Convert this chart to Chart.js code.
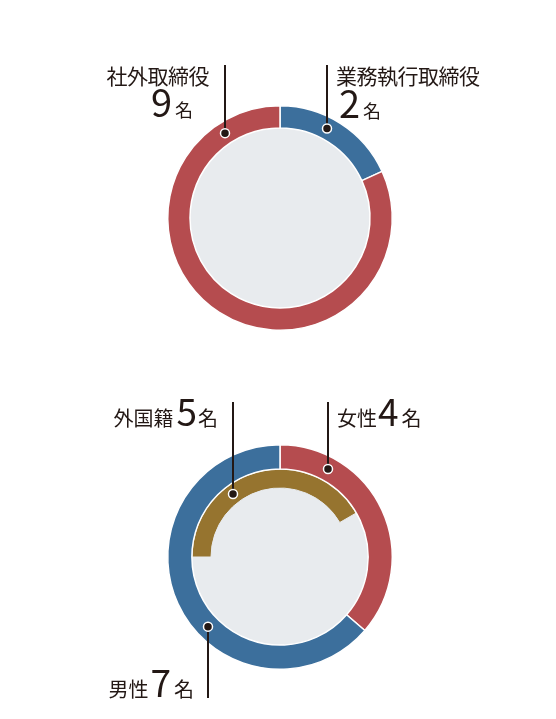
<!DOCTYPE html>
<html lang="ja">
<head>
<meta charset="utf-8">
<title>取締役会の構成</title>
<script src="https://cdn.jsdelivr.net/npm/chart.js@4.4.1/dist/chart.umd.min.js"></script>
<style>
    body { margin: 0; background: #fff; }
    #wrap {
        position: relative;
        width: 556px;
        height: 719px;
        overflow: hidden;
        font-family: "Noto Sans CJK JP", sans-serif;
        font-weight: 400;
        color: #231815;
    }
    #wrap canvas { position: absolute; left: 0; }
    .lbl { position: absolute; white-space: nowrap; line-height: 1; }
    .probe { display: inline-block; width: 0; height: 0; vertical-align: baseline; }
</style>
</head>
<body>
<div id="wrap">
    <canvas id="board" width="556" height="380" style="top:0"></canvas>
    <canvas id="diversity" width="556" height="339" style="top:380px"></canvas>
</div>
<script>
// Board composition (top ring)
const boardLabels = ['業務執行取締役', '社外取締役'];
const boardCounts = [2, 9];

// Diversity (bottom rings)
const genderLabels = ['女性', '男性'];
const genderCounts = [4, 7];
// inner ring: the gold arc in the picture covers about 5/12 of the circle
const foreignLabels = ['外国籍', 'その他'];
const foreignCounts = [5, 7];

const UNIT = '名';
const INK = '#231815';
const RED = '#b54c4f';
const BLUE = '#3c6f9c';
const GOLD = '#96742f';
const BACKDROP = '#e8ebee';

// light grey disc behind the rings
const ringBackdrop = {
    id: 'ringBackdrop',
    beforeDatasetsDraw(chart, args, opts) {
        const arc = chart.getDatasetMeta(0).data[0];
        const ctx = chart.ctx;
        ctx.save();
        ctx.fillStyle = opts.color;
        ctx.beginPath();
        ctx.arc(arc.x, arc.y, arc.innerRadius + 2, 0, Math.PI * 2);
        ctx.fill();
        ctx.restore();
    }
};

// vertical leader line ending in a dot on the middle of a ring
const leaderLines = {
    id: 'leaderLines',
    afterDatasetsDraw(chart, args, opts) {
        const ctx = chart.ctx;
        opts.items.forEach(item => {
            const arc = chart.getDatasetMeta(item.ring).data[0];
            const r = (arc.innerRadius + arc.outerRadius) / 2;
            const dx = item.x - arc.x;
            const dy = Math.sqrt(r * r - dx * dx);
            const y = item.end < arc.y ? arc.y - dy : arc.y + dy;

            ctx.save();
            ctx.strokeStyle = INK;
            ctx.lineWidth = 2;
            ctx.beginPath();
            ctx.moveTo(item.x, item.end);
            ctx.lineTo(item.x, y);
            ctx.stroke();

            ctx.beginPath();
            ctx.arc(item.x, y, 4.5, 0, Math.PI * 2);
            ctx.fillStyle = INK;
            ctx.fill();
            ctx.lineWidth = 1.5;
            ctx.strokeStyle = '#ffffff';
            ctx.stroke();
            ctx.restore();
        });
    }
};

function baseOptions(padding, cutout, items) {
    return {
        responsive: false,
        animation: false,
        events: [],
        cutout: cutout,
        layout: { padding: padding },
        plugins: {
            legend: { display: false },
            tooltip: { enabled: false },
            ringBackdrop: { color: BACKDROP },
            leaderLines: { items: items }
        }
    };
}

new Chart(document.getElementById('board'), {
    type: 'doughnut',
    data: {
        labels: boardLabels,
        datasets: [{
            data: boardCounts,
            backgroundColor: [BLUE, RED],
            borderColor: '#ffffff',
            borderWidth: 1.5
        }]
    },
    options: baseOptions({ top: 105, left: 167, right: 163, bottom: 49 }, 90, [
        { ring: 0, x: 327, end: 65 },
        { ring: 0, x: 225, end: 65 }
    ]),
    plugins: [ringBackdrop, leaderLines]
});

new Chart(document.getElementById('diversity'), {
    type: 'doughnut',
    data: {
        labels: genderLabels,
        datasets: [{
            data: genderCounts,
            backgroundColor: [RED, BLUE],
            borderColor: '#ffffff',
            borderWidth: 1.5,
            weight: 24
        }, {
            labels: foreignLabels,
            data: foreignCounts,
            backgroundColor: [GOLD, 'rgba(0,0,0,0)'],
            borderColor: BACKDROP,
            borderWidth: [1, 0],
            rotation: -90,
            weight: 19
        }]
    },
    options: baseOptions({ top: 64, left: 167, right: 163, bottom: 49 }, 69, [
        { ring: 0, x: 328, end: 22 },
        { ring: 1, x: 233, end: 22 },
        { ring: 0, x: 208, end: 318 }
    ]),
    plugins: [ringBackdrop, leaderLines]
});

// text labels, positioned by their baseline
const wrap = document.getElementById('wrap');
function placeLabel(parts, x, baseline, align) {
    const el = document.createElement('div');
    el.className = 'lbl';
    parts.forEach(p => {
        const s = document.createElement('span');
        s.textContent = p.text;
        s.style.fontSize = p.size + 'px';
        if (p.gap) s.style.marginLeft = p.gap + 'px';
        if (p.ls) s.style.letterSpacing = p.ls + 'px';
        el.appendChild(s);
    });
    const probe = document.createElement('span');
    probe.className = 'probe';
    el.appendChild(probe);
    wrap.appendChild(el);
    if (align === 'right') el.style.right = (556 - x) + 'px';
    else el.style.left = x + 'px';
    el.style.top = (baseline - probe.offsetTop) + 'px';
}

placeLabel([{ text: boardLabels[1], size: 21, ls: -0.5 }], 209, 84, 'right');
placeLabel([{ text: String(boardCounts[1]), size: 38 }, { text: UNIT, size: 18, gap: 3 }], 193, 117, 'right');
placeLabel([{ text: boardLabels[0], size: 21, ls: -0.5 }], 336, 84, 'left');
placeLabel([{ text: String(boardCounts[0]), size: 38 }, { text: UNIT, size: 18, gap: 3 }], 339, 118, 'left');

placeLabel([{ text: foreignLabels[0], size: 20 }, { text: String(foreignCounts[0]), size: 37, gap: 3 },
            { text: UNIT, size: 20, gap: 1 }], 218, 426, 'right');
placeLabel([{ text: genderLabels[0], size: 20 }, { text: String(genderCounts[0]), size: 37, gap: 1 },
            { text: UNIT, size: 20, gap: 3 }], 337, 426, 'left');
placeLabel([{ text: genderLabels[1], size: 20 }, { text: String(genderCounts[1]), size: 37, gap: 2 },
            { text: UNIT, size: 20, gap: 3 }], 194, 697, 'right');
</script>
</body>
</html>
